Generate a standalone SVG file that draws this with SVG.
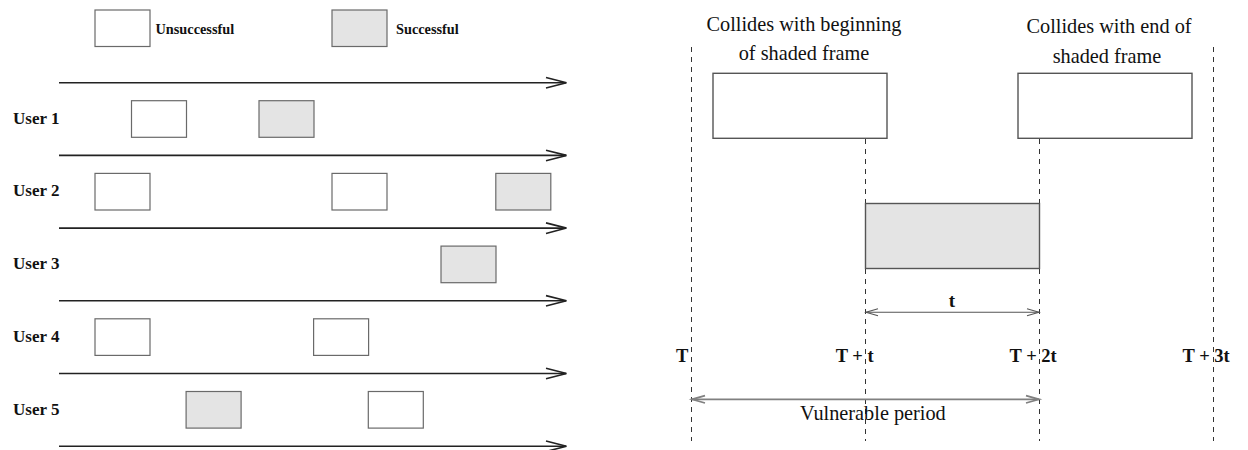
<svg xmlns="http://www.w3.org/2000/svg" width="1248" height="450" viewBox="0 0 1248 450">
<style>
  .bg { fill: #ffffff; }
  .fu { fill: #ffffff; stroke: #6a6a6a; stroke-width: 1.2; }
  .fs { fill: #e4e4e4; stroke: #6a6a6a; stroke-width: 1.2; }
  .big { fill: #ffffff; stroke: #555555; stroke-width: 1.4; }
  .bigs { fill: #e4e4e4; stroke: #555555; stroke-width: 1.4; }
  .axis { stroke: #222222; stroke-width: 1.6; fill: none; }
  .head { stroke: #222222; stroke-width: 1.6; fill: none; stroke-linejoin: miter; }
  .dash { stroke: #333333; stroke-width: 1; stroke-dasharray: 5 5; fill: none; }
  .dim { stroke: #555555; stroke-width: 1.1; fill: none; }
  .dim2 { stroke: #808080; stroke-width: 1.8; fill: none; }
  text { font-family: 'Liberation Serif', 'DejaVu Serif', serif; fill: #111111; }
  .lb { font-weight: bold; }
</style>
<rect class="bg" x="0" y="0" width="1248" height="450"/>

<g id="legend">
  <rect class="fu" x="95" y="10" width="55" height="36.5"/>
  <text class="lb" x="155.5" y="34" font-size="14.3">Unsuccessful</text>
  <rect class="fs" x="332" y="10" width="55" height="36.5"/>
  <text class="lb" x="396" y="34" font-size="14.3">Successful</text>
</g>

<g id="connectors">
  <g id="timelines">
    <line class="axis" x1="59" y1="82.7" x2="566" y2="82.7"/>
    <polyline class="head" points="546,77.5 566.5,82.7 546,88"/>
    <line class="axis" x1="59" y1="155.4" x2="566" y2="155.4"/>
    <polyline class="head" points="546,150.2 566.5,155.4 546,160.7"/>
    <line class="axis" x1="59" y1="228.1" x2="566" y2="228.1"/>
    <polyline class="head" points="546,222.9 566.5,228.1 546,233.4"/>
    <line class="axis" x1="59" y1="300.8" x2="566" y2="300.8"/>
    <polyline class="head" points="546,295.6 566.5,300.8 546,306.1"/>
    <line class="axis" x1="59" y1="373.5" x2="566" y2="373.5"/>
    <polyline class="head" points="546,368.3 566.5,373.5 546,378.8"/>
    <line class="axis" x1="59" y1="446.2" x2="566" y2="446.2"/>
    <polyline class="head" points="546,441 566.5,446.2 546,451.5"/>
  </g>
  <g id="dashed-guides">
    <line class="dash" x1="691.5" y1="47" x2="691.5" y2="441"/>
    <line class="dash" x1="865.5" y1="139" x2="865.5" y2="441"/>
    <line class="dash" x1="1039.5" y1="139" x2="1039.5" y2="441"/>
    <line class="dash" x1="1213.5" y1="47" x2="1213.5" y2="441"/>
  </g>
  <g id="t-dimension">
    <line class="dim" x1="866" y1="312.3" x2="1039" y2="312.3"/>
    <polyline class="dim" points="878,308.8 866,312.3 878,315.8"/>
    <polyline class="dim" points="1027,308.8 1039,312.3 1027,315.8"/>
  </g>
  <g id="vulnerable-dimension">
    <line class="dim2" x1="692" y1="399.3" x2="1039" y2="399.3"/>
    <polyline class="dim2" points="705,395.6 692,399.3 705,403"/>
    <polyline class="dim2" points="1026,395.6 1039,399.3 1026,403"/>
  </g>
</g>

<g id="user1">
  <text class="lb" x="13" y="123.7" font-size="17">User 1</text>
  <rect class="fu" x="131.5" y="100.7" width="55" height="36.6"/>
  <rect class="fs" x="259" y="100.7" width="55" height="36.6"/>
</g>
<g id="user2">
  <text class="lb" x="13" y="196.4" font-size="17">User 2</text>
  <rect class="fu" x="95" y="173.4" width="55" height="36.6"/>
  <rect class="fu" x="332" y="173.4" width="55" height="36.6"/>
  <rect class="fs" x="495.8" y="173.4" width="55" height="36.6"/>
</g>
<g id="user3">
  <text class="lb" x="13" y="269.1" font-size="17">User 3</text>
  <rect class="fs" x="441" y="246.1" width="55" height="36.6"/>
</g>
<g id="user4">
  <text class="lb" x="13" y="341.8" font-size="17">User 4</text>
  <rect class="fu" x="95" y="318.8" width="55" height="36.6"/>
  <rect class="fu" x="313.6" y="318.8" width="55" height="36.6"/>
</g>
<g id="user5">
  <text class="lb" x="13" y="414.5" font-size="17">User 5</text>
  <rect class="fs" x="186.1" y="391.5" width="55" height="36.6"/>
  <rect class="fu" x="368.3" y="391.5" width="55" height="36.6"/>
</g>

<g id="frame-begin">
  <text x="804" y="31" font-size="20.3" text-anchor="middle">Collides with beginning</text>
  <text x="804" y="60" font-size="20.3" text-anchor="middle">of shaded frame</text>
  <rect class="big" x="713" y="73.3" width="174" height="65"/>
</g>
<g id="frame-end">
  <text x="1109" y="33" font-size="20.3" text-anchor="middle">Collides with end of</text>
  <text x="1107" y="62.5" font-size="20.3" text-anchor="middle">shaded frame</text>
  <rect class="big" x="1018" y="73.3" width="174" height="65"/>
</g>
<g id="shaded-frame">
  <rect class="bigs" x="865.5" y="203.5" width="174" height="65"/>
</g>

<g id="labels">
  <text class="lb" x="952" y="307" font-size="19" text-anchor="middle">t</text>
  <text class="lb" x="676" y="362.3" font-size="18.5">T</text>
  <text class="lb" x="835.7" y="362.3" font-size="18.5">T + t</text>
  <text class="lb" x="1009.5" y="362.3" font-size="18.5">T + 2t</text>
  <text class="lb" x="1182.5" y="362.3" font-size="18.5">T + 3t</text>
  <text x="800" y="420" font-size="20.3">Vulnerable period</text>
</g>
</svg>
